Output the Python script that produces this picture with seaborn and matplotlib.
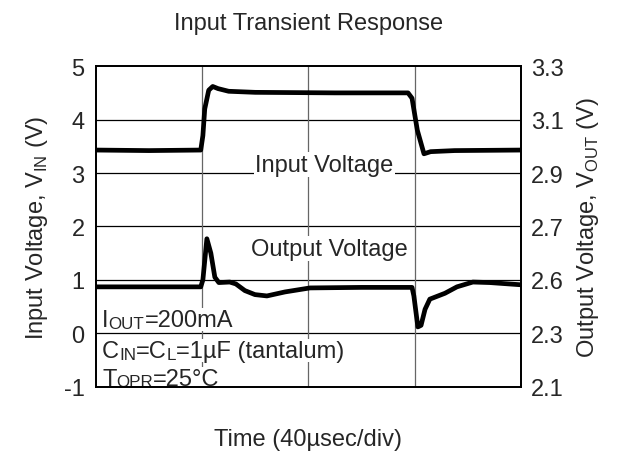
import matplotlib
matplotlib.use("Agg")
import matplotlib.pyplot as plt
import matplotlib.transforms as mtransforms
import seaborn as sns

# time in usec (4 divisions of 40 usec)
t_in = [0, 20, 39.5, 40.3, 41.0, 42.5, 44.0, 46.0, 50.0, 60.0, 90.0, 117.5,
        119.0, 121.0, 123.5, 126.0, 135.0, 160.0]
v_in = [3.43, 3.42, 3.43, 3.70, 4.20, 4.55, 4.62, 4.58, 4.53, 4.51, 4.50, 4.50,
        4.40, 3.80, 3.36, 3.40, 3.42, 3.43]

t_out = [0, 20, 39.5, 40.3, 41.8, 43.3, 44.8, 46.3, 50.4, 52.7, 56.1, 59.9,
         64.4, 71.2, 80.6, 100.0, 119.0, 119.7, 121.2, 122.4, 123.9, 125.7,
         131.4, 135.9, 141.9, 148.3, 159.6]
v_out = [2.474, 2.474, 2.474, 2.50, 2.654, 2.60, 2.51, 2.49, 2.492, 2.485, 2.46,
         2.445, 2.44, 2.455, 2.47, 2.472, 2.472, 2.44, 2.324, 2.33, 2.39, 2.428,
         2.45, 2.474, 2.492, 2.49, 2.482]

left_ticks = [-1, 0, 1, 2, 3, 4, 5]
right_ticks = [2.1, 2.3, 2.5, 2.7, 2.9, 3.1, 3.3]
right_labels = ["2.1", "2.3", "2.6", "2.7", "2.9", "3.1", "3.3"]
time_grid = [40, 80, 120]

# condition text: (text, is_subscript)
cond_lines = [
    [("I", False), ("OUT", True), ("=200mA", False)],
    [("C", False), ("IN", True), ("=C", False), ("L", True), ("=1µF (tantalum)", False)],
    [("T", False), ("OPR", True), ("=25°C", False)],
]
cond_y = [0.14, -0.44, -0.96]

sns.set_theme(style="white")
plt.rcParams["font.family"] = ["Liberation Sans", "DejaVu Sans"]
plt.rcParams["mathtext.fontset"] = "custom"
plt.rcParams["mathtext.rm"] = "Liberation Sans"

fig = plt.figure(figsize=(6.18, 4.6), dpi=100)
ax = fig.add_axes([0.155, 0.157, 0.688, 0.697])
ax2 = ax.twinx()

FS = 17

sns.lineplot(x=t_in, y=v_in, ax=ax, color="black", lw=3.4, zorder=3)
sns.lineplot(x=t_out, y=v_out, ax=ax2, color="black", lw=3.4, zorder=3)

ax.set_xlim(0, 160)
ax.set_ylim(-1, 5)
ax2.set_ylim(2.1, 3.3)
ax.set_xticks(time_grid)
ax.set_xticklabels([])
ax.set_yticks(left_ticks)
ax.set_yticklabels([str(v) for v in left_ticks], fontsize=FS)
ax2.set_yticks(right_ticks)
ax2.set_yticklabels(right_labels, fontsize=FS)
ax.tick_params(length=0, pad=8)
ax2.tick_params(length=0, pad=7)

for y in left_ticks[1:-1]:
    ax.axhline(y, color="black", lw=0.9, zorder=1)
for x in time_grid:
    ax.axvline(x, color="0.4", lw=0.9, zorder=1)

for a in (ax, ax2):
    for s in a.spines.values():
        s.set_color("black")
        s.set_linewidth(1.3)

ax.set_ylabel(r"Input Voltage, V$_{\mathrm{IN}}$ (V)", fontsize=FS, labelpad=10)
ax2.set_ylabel(r"Output Voltage, V$_{\mathrm{OUT}}$ (V)", fontsize=FS, labelpad=8)
ax.set_xlabel("Time (40µsec/div)", fontsize=FS, labelpad=22)
ax.set_title("Input Transient Response", fontsize=FS, pad=27)

box = dict(facecolor="white", edgecolor="none", pad=1)
ax.text(86, 3.04, "Input Voltage", fontsize=FS, ha="center", va="baseline",
        bbox=box, zorder=2)
ax.text(88, 1.47, "Output Voltage", fontsize=FS, ha="center", va="baseline",
        bbox=box, zorder=2)

# conditions block, with small-caps style subscripts
renderer = fig.canvas.get_renderer()
for parts, y in zip(cond_lines, cond_y):
    offset = 0.0
    for s, small in parts:
        tr = mtransforms.offset_copy(ax.transData, fig=fig, x=offset,
                                     y=-1.2 if small else 0, units="points")
        t = ax.text(2.4, y, s, fontsize=FS * 0.72 if small else FS,
                    va="baseline", transform=tr, zorder=2,
                    bbox=dict(facecolor="white", edgecolor="none", pad=0.3))
        offset += t.get_window_extent(renderer).width * 72 / fig.dpi

fig.savefig("out.png", dpi=100)
